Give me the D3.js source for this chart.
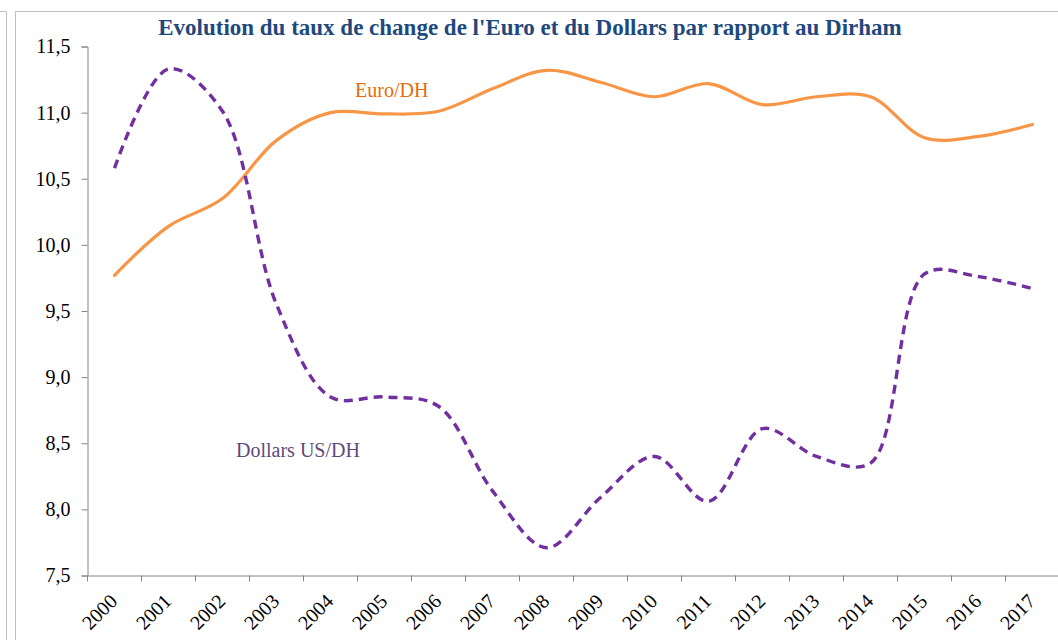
<!DOCTYPE html>
<html>
<head>
<meta charset="utf-8">
<script src="https://cdn.jsdelivr.net/npm/d3@7"></script>
<style>
  body { margin: 0; background: #fff; }
  svg { display: block; }
  text { font-family: "Liberation Serif", "Times New Roman", serif; }
</style>
</head>
<body>
<svg width="1058" height="640"></svg>
<script>
// donnees
var years = ["2000","2001","2002","2003","2004","2005","2006","2007","2008",
  "2009","2010","2011","2012","2013","2014","2015","2016","2017"];
var euro = [9.77, 10.14, 10.35, 10.79, 11.00, 10.99, 11.01, 11.18, 11.32,
  11.23, 11.12, 11.22, 11.06, 11.12, 11.12, 10.81, 10.82, 10.91];
var dollar = [10.58, 11.33, 11.01, 9.55, 8.85, 8.85, 8.78, 8.14, 7.71,
  8.09, 8.40, 8.06, 8.61, 8.40, 8.35, 9.78, 9.76, 9.67];
var yTicks = [7.5, 8, 8.5, 9, 9.5, 10, 10.5, 11, 11.5];

var svg = d3.select("svg");

// cadres
svg.append("path")
  .attr("d", "M0,11.5H6.5V640")
  .attr("fill", "none").attr("stroke", "#c0c0c0");
svg.append("rect")
  .attr("x", 15.5).attr("y", 11.5).attr("width", 1100).attr("height", 700)
  .attr("fill", "none").attr("stroke", "#c0c0c0");

var x = d3.scaleBand().domain(years).range([87.5, 87.5 + 54 * 18]);
var y = d3.scaleLinear().domain([7.5, 11.5]).range([575.5, 46.5]);

// titre
svg.append("text")
  .attr("x", 530).attr("y", 35)
  .attr("text-anchor", "middle")
  .style("font-size", "23px").style("font-weight", "bold")
  .style("fill", "#1f497d")
  .text("Evolution du taux de change de l'Euro et du Dollars par rapport au Dirham");

// axe y
var yAxis = svg.append("g")
  .attr("transform", "translate(87.5,0)")
  .call(d3.axisLeft(y).tickValues(yTicks).tickSize(6).tickPadding(11)
    .tickFormat(d => d3.format(".1f")(d).replace(".", ",")));
yAxis.selectAll("text")
  .style("font-family", "'Liberation Serif', serif")
  .style("font-size", "20px").style("fill", "#000");

// axe x
var xAxis = svg.append("g")
  .attr("transform", "translate(0,575.5)")
  .call(d3.axisBottom(x).tickSize(0).tickFormat(""));
xAxis.selectAll(".tick").remove();
xAxis.selectAll(".xt")
  .data(d3.range(years.length + 1))
  .enter()
  .append("line")
  .attr("x1", i => 87.5 + 54 * i).attr("x2", i => 87.5 + 54 * i)
  .attr("y1", 0).attr("y2", 6)
  .attr("stroke", "#868686");
xAxis.selectAll(".lbl")
  .data(years)
  .enter()
  .append("text")
  .attr("text-anchor", "end")
  .attr("transform", d => "translate(" + (x(d) + x.bandwidth() / 2 + 4) + ",27) rotate(-45)")
  .style("font-family", "'Liberation Serif', serif")
  .style("font-size", "20px")
  .style("fill", "#000")
  .text(d => d);

svg.selectAll(".domain").attr("stroke", "#868686");
svg.selectAll(".tick line").attr("stroke", "#868686");

var line = d3.line()
  .x((d, i) => x(years[i]) + x.bandwidth() / 2)
  .y(d => y(d))
  .curve(d3.curveCatmullRom.alpha(0.5));

svg.append("path")
  .datum(euro)
  .attr("d", line)
  .attr("fill", "none")
  .attr("stroke", "#f79646")
  .attr("stroke-width", 3.2)
  .attr("stroke-linecap", "round");

svg.append("path")
  .datum(dollar)
  .attr("d", line)
  .attr("fill", "none")
  .attr("stroke", "#7030a0")
  .attr("stroke-width", 3.4)
  .attr("stroke-dasharray", "9,6");

// etiquettes
svg.append("text")
  .attr("x", 355).attr("y", 97)
  .style("font-size", "20px").style("fill", "#e46c0a")
  .text("Euro/DH");
svg.append("text")
  .attr("x", 236).attr("y", 457)
  .style("font-size", "20px").style("fill", "#604a7b")
  .text("Dollars US/DH");
</script>
</body>
</html>
